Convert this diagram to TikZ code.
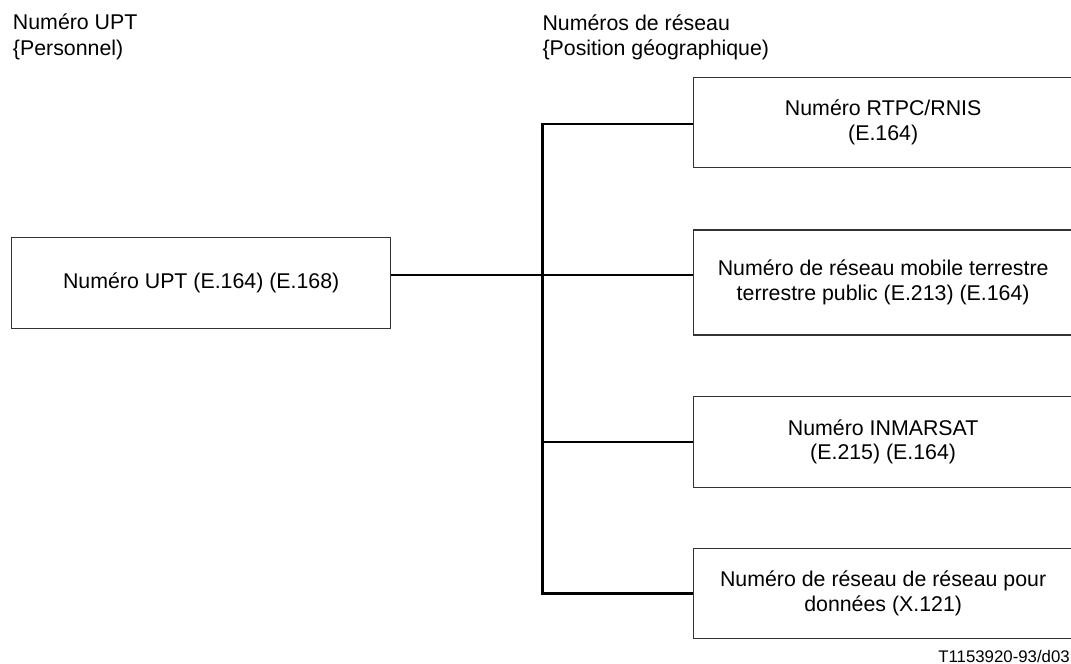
\documentclass[tikz,border=0pt]{standalone}
\usepackage{fontspec}
\setmainfont{Liberation Sans}
\begin{document}
\begin{tikzpicture}[x=0.75pt, y=-0.75pt,
    box/.style={draw=black!80, line width=1.1pt, inner sep=0pt, align=center,
      font=\fontsize{16}{18.4}\selectfont},
    rbox/.style={box, minimum width=284.8pt},
    head/.style={align=left, inner sep=0pt, anchor=base west, font=\fontsize{16}{19}\selectfont},
    link/.style={line width=2pt}]
  \useasboundingbox (0,0) rectangle (1071,664);
  \clip (0,0) rectangle (1071,664);
  % headings
  \node[head] (hupt) at (12.7,55.3) {Numéro UPT\\\{Personnel)};
  \node[head] (hnet) at (542.3,55.8) {Numéros de réseau\\\{Position géographique)};
  % boxes
  \node[box, minimum width=284.25pt, minimum height=68.25pt] (upt) at (201.2,282.8) {Numéro UPT (E.164) (E.168)};
  \node[rbox, minimum height=67.8pt] (rtpc) at (883.15,122.5) {Numéro RTPC/RNIS\\(E.164)};
  \node[rbox, minimum height=78.75pt] (mobile) at (883.15,282.5) {Numéro de réseau mobile terrestre\\terrestre public (E.213) (E.164)};
  \node[rbox, minimum height=67.95pt] (inmarsat) at (883.15,442) {Numéro INMARSAT\\(E.215) (E.164)};
  \node[rbox, minimum height=67.5pt] (data) at (883.15,593.3) {Numéro de réseau de réseau pour\\données (X.121)};
  \node[inner sep=0pt, anchor=base east, font=\fontsize{12.6}{13}\selectfont] (ref) at (1070,662.5) {T1153920-93/d03};
  % connectors
  \coordinate (bus) at (542.3,0);
  \coordinate (mid) at ([yshift=5.8pt]upt.east);
  \draw[link] (mid) -- (mid -| mobile.west);
  \draw[link] ([yshift=-1.1pt]rtpc.west) -| (bus |- data.west) -- (data.west);
  \draw[link] (inmarsat.west) -- (bus |- inmarsat.west);
\end{tikzpicture}
\end{document}
